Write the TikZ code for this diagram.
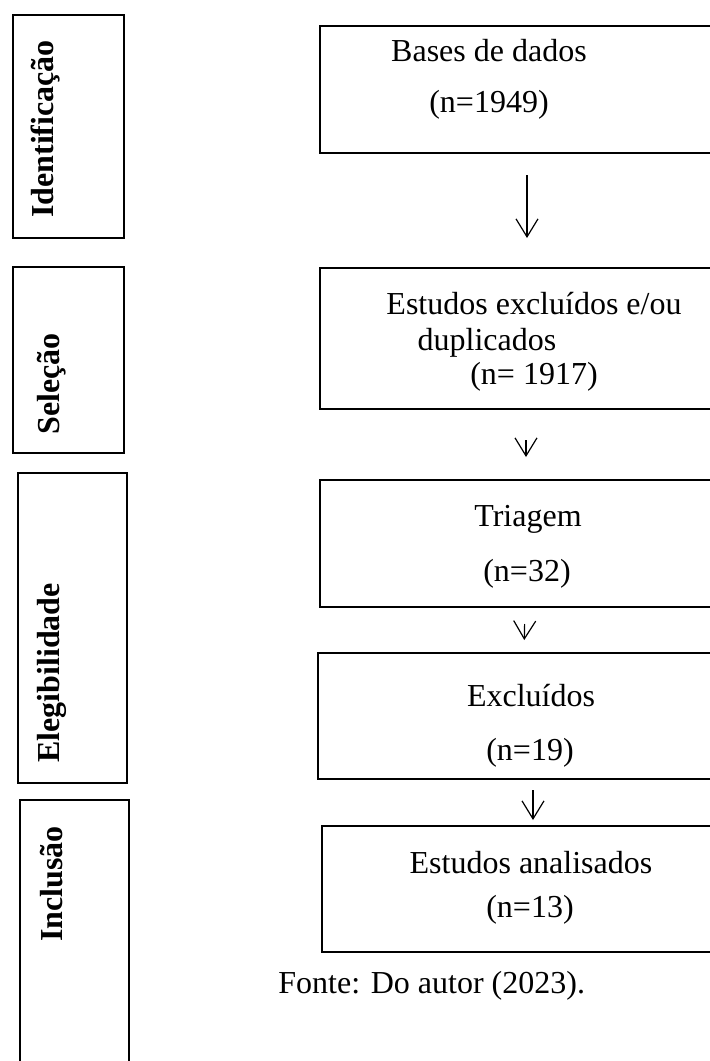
\documentclass[tikz,border=0pt]{standalone}
\usepackage{fontspec}
\setmainfont{Liberation Serif}
\usetikzlibrary{arrows.meta, positioning}

\begin{document}
\begin{tikzpicture}[x=0.5pt, y=-0.5pt, >=Stealth,
    fase/.style={draw, line width=1pt, anchor=north west, inner sep=0pt},
    caixa/.style={draw, line width=1pt, anchor=north west, inner sep=0pt, minimum width=211pt},
    rotulo/.style={font=\fontsize{16}{19}\selectfont\bfseries, rotate=90, anchor=base, inner sep=0pt},
    texto/.style={font=\fontsize{16}{19}\selectfont, anchor=base, inner sep=0pt},
    seta/.style={line width=0.6pt, -{Straight Barb[length=9pt, width=11pt, line width=0.6pt]}}]
    \useasboundingbox (0,0) rectangle (710,1061);
    \clip (0,0) rectangle (710,1061);

    % Phase boxes (left)
    \node[fase, minimum width=55.5pt, minimum height=111.5pt] (identBox) at (12,14) {};
    \node[fase, minimum width=55.5pt, minimum height=93pt] (selBox) at (12,266) {};
    \node[fase, minimum width=54.5pt, minimum height=155pt] (elegBox) at (17,472) {};
    \node[fase, minimum width=54.5pt, minimum height=145pt] (inclBox) at (19,799) {};
    \node[rotulo] (identLabel) at (54,129) {Identificação};
    \node[rotulo] (selLabel) at (59,384) {Seleção};
    \node[rotulo] (elegLabel) at (59,673) {Elegibilidade};
    \node[rotulo] (inclLabel) at (62,884) {Inclusão};

    % Flow boxes (right)
    \node[caixa, minimum height=63.5pt] (bases) at (319,25) {};
    \node[caixa, minimum height=70.5pt] (duplicados) at (319,267) {};
    \node[caixa, minimum height=63.5pt] (triagem) at (319,479) {};
    \node[caixa, minimum width=212pt, minimum height=63pt] (excluidos) at (317,652) {};
    \node[caixa, minimum width=210pt, minimum height=63pt] (analisados) at (321,825) {};

    % Box texts
    \node[texto] (basesTxt) at (489,61) {Bases de dados};
    \node[texto] (basesN) at (489,112) {(n=1949)};
    \node[texto] (dupTxtA) at (534,314) {Estudos excluídos e/ou};
    \node[texto] (dupTxtB) at (487,350) {duplicados};
    \node[texto] (dupN) at (534,384) {(n= 1917)};
    \node[texto] (triTxt) at (528,526) {Triagem};
    \node[texto] (triN) at (527,581) {(n=32)};
    \node[texto] (excTxt) at (531,706) {Excluídos};
    \node[texto] (excN) at (530,760) {(n=19)};
    \node[texto] (anaTxt) at (531,873) {Estudos analisados};
    \node[texto] (anaN) at (530,917) {(n=13)};

    % Arrows
    \draw[seta, shorten <=10.5pt, shorten >=14.5pt] ([xshift=-2pt]bases.south) -- ([xshift=-2pt]duplicados.north);
    \draw[seta, shorten <=15pt, shorten >=11pt] ([xshift=-2.5pt]duplicados.south) -- ([xshift=-2.5pt]triagem.north);
    \draw[seta, shorten <=8pt, shorten >=6pt] ([xshift=-3pt]triagem.south) -- ([xshift=-3pt]excluidos.north);
    \draw[seta, shorten <=5pt, shorten >=2.5pt] ([xshift=1.5pt]excluidos.south) -- ([xshift=0.5pt]analisados.north);

    % Source
    \node[texto, anchor=base west] (fonte) at (278,993) {Fonte: Do autor (2023).};
\end{tikzpicture}
\end{document}
